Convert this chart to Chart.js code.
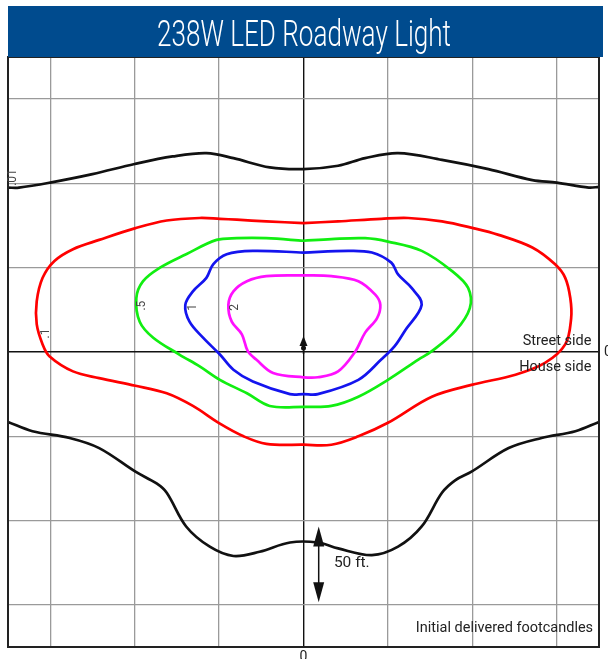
<!DOCTYPE html>
<html>
<head>
<meta charset="utf-8">
<script src="https://cdn.jsdelivr.net/npm/chart.js@4.4.1/dist/chart.umd.min.js"></script>
<style>
  html, body { margin: 0; padding: 0; background: #fff; }
  #wrap { position: relative; width: 608px; height: 659px; }
</style>
</head>
<body>
<div id="wrap"><canvas id="isoChart" width="608" height="659"></canvas></div>
<script>
// grid units (mounting heights), 0,0 = luminaire
var tickValues = [-3, -2, -1, 0, 1, 2, 3];

// .01 fc line, clipped by the frame (street side part and house side part)
var level001Top = [[-3.5, 1.95], [-3.37, 1.95], [-3.0, 2.01], [-2.5, 2.11], [-2.0, 2.23], [-1.55, 2.32], [-1.15, 2.36],
    [-0.83, 2.30], [-0.4, 2.19], [0, 2.17], [0.41, 2.21], [0.73, 2.30], [1.12, 2.36], [1.64, 2.28], [2.19, 2.17],
    [2.71, 2.04], [3.0, 2.01], [3.38, 1.95], [3.5, 1.96]];
var level001Bottom = [[-3.5, -0.83], [-3.21, -0.94], [-2.77, -1.02], [-2.42, -1.14], [-1.99, -1.42], [-1.74, -1.56],
    [-1.62, -1.67], [-1.39, -2.07], [-1.11, -2.31], [-0.83, -2.42], [-0.52, -2.37], [-0.16, -2.26], [0.17, -2.26],
    [0.41, -2.33], [0.81, -2.41], [1.12, -2.31], [1.40, -2.07], [1.64, -1.67], [1.80, -1.52], [1.99, -1.42],
    [2.43, -1.14], [2.82, -1.02], [3.22, -0.94], [3.5, -0.83]];
// .1 fc
var level01 = [[0, 1.53], [0.41, 1.55], [0.92, 1.58], [1.24, 1.59], [1.64, 1.55], [2.01, 1.47], [2.31, 1.39], [2.71, 1.24],
    [2.98, 1.04], [3.10, 0.88], [3.16, 0.64], [3.17, 0.40], [3.10, 0.09], [2.86, -0.13], [2.51, -0.27], [1.99, -0.39],
    [1.52, -0.53], [1.0, -0.84], [0.65, -1.0], [0.33, -1.10], [0, -1.10], [-0.44, -1.09], [-0.71, -1.0], [-0.99, -0.85],
    [-1.31, -0.64], [-1.62, -0.49], [-1.99, -0.40], [-2.42, -0.31], [-2.73, -0.23], [-3.01, -0.05], [-3.09, 0.09],
    [-3.16, 0.33], [-3.16, 0.60], [-3.09, 0.88], [-2.95, 1.08], [-2.73, 1.22], [-2.42, 1.33], [-1.99, 1.47],
    [-1.62, 1.56], [-1.23, 1.59], [-0.99, 1.58], [-0.79, 1.57], [-0.44, 1.55], [0, 1.53]];
// .5 fc
var level05 = [[0, 1.32], [0.33, 1.34], [0.73, 1.35], [1.0, 1.31], [1.40, 1.20], [1.76, 0.96], [1.95, 0.76], [1.97, 0.52],
    [1.80, 0.25], [1.52, 0.01], [1.36, -0.09], [1.0, -0.33], [0.65, -0.53], [0.33, -0.64], [0, -0.65], [-0.40, -0.64],
    [-0.67, -0.49], [-0.99, -0.33], [-1.23, -0.17], [-1.47, -0.03], [-1.78, 0.17], [-1.94, 0.36], [-1.98, 0.64],
    [-1.90, 0.84], [-1.70, 1.0], [-1.39, 1.16], [-1.03, 1.33], [-0.79, 1.35], [-0.44, 1.35], [0, 1.32]];
// 1 fc
var level1 = [[0, 1.18], [0.53, 1.20], [0.81, 1.18], [1.04, 1.06], [1.12, 0.92], [1.28, 0.76], [1.40, 0.56], [1.20, 0.25],
    [1.08, 0.07], [0.92, -0.09], [0.65, -0.33], [0.17, -0.50], [0, -0.50], [-0.16, -0.50], [-0.60, -0.35], [-0.83, -0.21],
    [-0.99, -0.03], [-1.19, 0.17], [-1.35, 0.36], [-1.40, 0.56], [-1.31, 0.72], [-1.15, 0.88], [-1.07, 1.04],
    [-0.91, 1.16], [-0.60, 1.20], [0, 1.18]];
// 2 fc
var level2 = [[0, 0.91], [0.33, 0.90], [0.65, 0.84], [0.85, 0.68], [0.91, 0.56], [0.87, 0.40], [0.73, 0.23], [0.61, 0.0],
    [0.41, -0.23], [0.17, -0.30], [0, -0.30], [-0.36, -0.25], [-0.56, -0.09], [-0.66, 0.01], [-0.73, 0.21], [-0.85, 0.36],
    [-0.89, 0.56], [-0.83, 0.72], [-0.67, 0.84], [-0.44, 0.90], [0, 0.91]];

// contour labels: text and where they sit
var labelTexts = [".01", ".1", ".5", "1", "2"];
var labelPos = [[-3.44, 2.07], [-3.05, 0.22], [-1.91, 0.55], [-1.31, 0.53], [-0.81, 0.53]];

function toPoints(arr) {
    return arr.map(function (p) { return { x: p[0], y: p[1] }; });
}

function line(arr, color) {
    return {
        data: toPoints(arr),
        showLine: true,
        borderColor: color,
        borderWidth: 2.7,
        pointRadius: 0,
        tension: 0.35,
        fill: false
    };
}

var gridOpts = {
    color: function (c) { return c.tick && c.tick.value === 0 ? '#111' : '#9a9a9a'; },
    lineWidth: function (c) { return c.tick && c.tick.value === 0 ? 1.4 : 1.3; },
    drawTicks: false
};

function setTicks(scale) {
    scale.ticks = tickValues.map(function (v) { return { value: v }; });
}

function arrowHead(ctx, x, y, dir, w, h) {
    ctx.beginPath();
    ctx.moveTo(x, y);
    ctx.lineTo(x - w / 2, y + dir * h);
    ctx.lineTo(x + w / 2, y + dir * h);
    ctx.closePath();
    ctx.fill();
}

var overlay = {
    id: 'overlay',
    afterDraw: function (chart) {
        var ctx = chart.ctx, a = chart.chartArea;
        var sx = chart.scales.x, sy = chart.scales.y;
        ctx.save();

        // frame
        ctx.strokeStyle = '#222';
        ctx.lineWidth = 2;
        ctx.strokeRect(a.left, a.top, a.right - a.left, a.bottom - a.top);

        // header bar
        ctx.fillStyle = '#004b8e';
        ctx.fillRect(8, 6, 595, a.top - 6);
        ctx.fillStyle = '#fff';
        ctx.font = '300 36px Roboto';
        ctx.textBaseline = 'alphabetic';
        ctx.textAlign = 'center';
        var title = '238W LED Roadway Light';
        var w = ctx.measureText(title).width;
        ctx.save();
        ctx.translate(304, 46);
        ctx.scale(294 / w, 1);
        ctx.fillText(title, 0, 0);
        ctx.restore();

        // contour labels
        ctx.fillStyle = '#444';
        ctx.font = '12px Roboto';
        ctx.textAlign = 'center';
        ctx.textBaseline = 'middle';
        labelTexts.forEach(function (t, i) {
            ctx.save();
            ctx.translate(sx.getPixelForValue(labelPos[i][0]), sy.getPixelForValue(labelPos[i][1]));
            ctx.rotate(-Math.PI / 2);
            ctx.fillText(t, 0, 0);
            ctx.restore();
        });

        // text notes
        ctx.fillStyle = '#222';
        ctx.font = '14.5px Roboto';
        ctx.textAlign = 'right';
        ctx.fillText('Street side', sx.getPixelForValue(3.41), sy.getPixelForValue(0.13));
        ctx.fillText('House side', sx.getPixelForValue(3.41), sy.getPixelForValue(-0.18));
        ctx.fillText('Initial delivered footcandles', sx.getPixelForValue(3.43), sy.getPixelForValue(-3.28));
        ctx.textAlign = 'left';
        ctx.font = '15.5px Roboto';
        ctx.fillText('50 ft.', sx.getPixelForValue(0.36), sy.getPixelForValue(-2.51));
        ctx.font = '14px Roboto';
        ctx.fillText('0', a.right + 5, sy.getPixelForValue(0));
        ctx.textAlign = 'center';
        ctx.textBaseline = 'top';
        ctx.fillText('0', sx.getPixelForValue(0), a.bottom + 3);

        // 50 ft. dimension arrow
        var ax = sx.getPixelForValue(0.18);
        var y1 = sy.getPixelForValue(-2.07), y2 = sy.getPixelForValue(-2.97);
        ctx.strokeStyle = '#111';
        ctx.fillStyle = '#111';
        ctx.lineWidth = 1.5;
        ctx.beginPath();
        ctx.moveTo(ax, y1 + 10);
        ctx.lineTo(ax, y2 - 10);
        ctx.stroke();
        arrowHead(ctx, ax, y1, 1, 11, 20);
        arrowHead(ctx, ax, y2, -1, 11, 20);

        // luminaire marker
        var cx = sx.getPixelForValue(0), cy = sy.getPixelForValue(0);
        ctx.beginPath();
        ctx.moveTo(cx, cy - 7);
        ctx.lineTo(cx, cy + 2);
        ctx.stroke();
        arrowHead(ctx, cx, cy - 16, 1, 8, 10);
        ctx.beginPath();
        ctx.arc(cx, cy - 4, 2.5, 0, Math.PI * 2);
        ctx.fill();

        ctx.restore();
    }
};

var chartPlaceholder = document.getElementById('isoChart');
var isoChart = new Chart(chartPlaceholder, {
    type: 'scatter',
    data: {
        datasets: [
            line(level001Top, '#111'),
            line(level001Bottom, '#111'),
            line(level01, '#ff0000'),
            line(level05, '#11ee11'),
            line(level1, '#1414ee'),
            line(level2, '#ff10ff')
        ]
    },
    options: {
        responsive: false,
        animation: false,
        layout: { padding: { left: 8, top: 57, right: 9, bottom: 12 } },
        plugins: { legend: { display: false }, tooltip: { enabled: false }, title: { display: false } },
        scales: {
            x: {
                type: 'linear', min: -3.5, max: 3.5,
                afterBuildTicks: setTicks,
                ticks: { display: false },
                grid: gridOpts,
                border: { display: false }
            },
            y: {
                type: 'linear', min: -3.5, max: 3.5,
                afterBuildTicks: setTicks,
                ticks: { display: false },
                grid: gridOpts,
                border: { display: false }
            }
        }
    },
    plugins: [overlay]
});
</script>
</body>
</html>
